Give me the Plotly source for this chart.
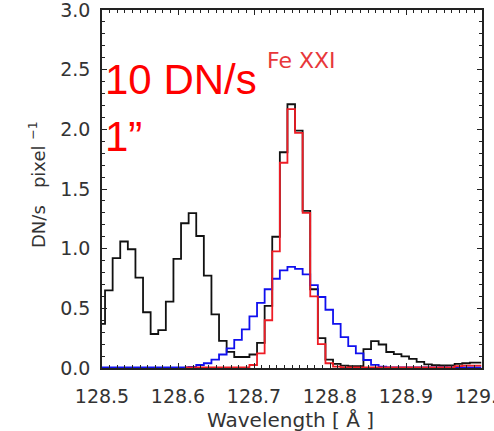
import plotly.graph_objects as go

# ---- data (bin centres in Angstrom, 0.01 A spacing) ----
wavelength = [round(128.499 + 0.01 * k, 4) for k in range(51)]

observed = [0.37, 0.65, 0.92, 1.06, 0.995, 0.757, 0.467, 0.285, 0.318, 0.556,
            0.914, 1.213, 1.297, 1.106, 0.774, 0.45, 0.228, 0.135, 0.092, 0.092,
            0.113, 0.21, 0.52, 1.10, 1.808, 2.21, 1.99, 1.316, 0.66, 0.25,
            0.07, 0.035, 0.02, 0.015, 0.015, 0.158, 0.225, 0.197, 0.134, 0.117,
            0.097, 0.076, 0.052, 0.031, 0.024, 0.021, 0.022, 0.034, 0.04, 0.045,
            0.045]

broad = [0.004, 0.004, 0.004, 0.004, 0.004, 0.004, 0.004, 0.004, 0.004, 0.004,
         0.005, 0.006, 0.01, 0.025, 0.04, 0.07, 0.113, 0.165, 0.235, 0.324,
         0.433, 0.545, 0.66, 0.748, 0.818, 0.847, 0.831, 0.784, 0.695, 0.595,
         0.488, 0.37, 0.258, 0.183, 0.123, 0.067, 0.027, 0.011, 0.005, 0.005,
         0.005, 0.005, 0.005, 0.005, 0.005, 0.005, 0.005, 0.005, 0.005, 0.005,
         0.005]

fe21_wave = wavelength[11:]
fe21 = [0.006, 0.006, 0.006, 0.006, 0.006, 0.006, 0.006, 0.006, 0.006,
        0.025, 0.123, 0.40, 0.978, 1.72, 2.17, 1.97, 1.30, 0.60, 0.20,
        0.04, 0.012, 0.006, 0.006, 0.006, 0.006, 0.006, 0.006, 0.006, 0.006,
        0.006, 0.006, 0.006, 0.006, 0.006, 0.006, 0.006, 0.015, 0.02, 0.02,
        0.02]

x_ticks = [128.5, 128.6, 128.7, 128.8, 128.9, 129.0]
y_ticks = [0.0, 0.5, 1.0, 1.5, 2.0, 2.5, 3.0]

# ---- figure ----
fig = go.Figure()
fig.add_trace(go.Scatter(x=wavelength, y=observed, mode="lines",
                         line=dict(shape="hvh", color="#111111", width=1.8),
                         showlegend=False))
fig.add_trace(go.Scatter(x=wavelength, y=broad, mode="lines",
                         line=dict(shape="hvh", color="#1010ee", width=1.8),
                         showlegend=False))
fig.add_trace(go.Scatter(x=fe21_wave, y=fe21, mode="lines",
                         line=dict(shape="hvh", color="#ee1c25", width=1.8),
                         showlegend=False))

W, H = 494, 431
L, R, T, B = 102, 12, 10, 63
pw, ph = W - L - R, H - T - B


def px(xp):
    return (xp - L) / pw


def py(yp):
    return (H - B - yp) / ph


tickfont = dict(family="DejaVu Sans", size=19, color="#333333")
fig.update_layout(
    width=W, height=H,
    margin=dict(l=L, r=R, t=T, b=B, autoexpand=False),
    paper_bgcolor="white", plot_bgcolor="white",
    xaxis=dict(range=[128.5, 129.0], tickvals=x_ticks,
               ticktext=[f"{v:.1f}" for v in x_ticks],
               ticks="inside", ticklen=5, tickwidth=1.2, tickcolor="#222",
               minor=dict(dtick=0.01, ticks="inside", ticklen=3, tickwidth=1, tickcolor="#222"),
               showline=True, linecolor="#222", linewidth=1.5, mirror="ticks",
               showgrid=False, zeroline=False, tickfont=tickfont,
               ticklabelstandoff=10, ticklabeloverflow="allow", automargin=False),
    yaxis=dict(range=[0, 3.0], tickvals=y_ticks,
               ticktext=[f"{v:.1f}" for v in y_ticks],
               ticks="inside", ticklen=5, tickwidth=1.2, tickcolor="#222",
               minor=dict(dtick=0.1, ticks="inside", ticklen=3, tickwidth=1, tickcolor="#222"),
               showline=True, linecolor="#222", linewidth=1.5, mirror="ticks",
               showgrid=False, zeroline=False, tickfont=tickfont,
               ticklabelstandoff=6, ticklabeloverflow="allow", automargin=False),
)

annotations = [
    dict(text="Wavelength [ Å ]", x=px(290), y=py(420), xref="paper", yref="paper",
         xanchor="center", yanchor="middle", showarrow=False,
         font=dict(family="DejaVu Sans", size=20, color="#333333")),
    dict(text="DN/s\u00a0\u00a0\u00a0pixel <sup>\u22121</sup>", x=px(37), y=py(185),
         xref="paper", yref="paper", textangle=-90,
         xanchor="center", yanchor="middle", showarrow=False,
         font=dict(family="DejaVu Sans", size=18, color="#333333")),
    dict(text="10 DN/s", x=px(103), y=py(80), xref="paper", yref="paper",
         xanchor="left", yanchor="middle", showarrow=False,
         font=dict(family="Liberation Sans", size=42, color="#ff0000")),
    dict(text="1\u201d", x=px(103), y=py(136), xref="paper", yref="paper",
         xanchor="left", yanchor="middle", showarrow=False,
         font=dict(family="Liberation Sans", size=42, color="#ff0000")),
    dict(text="Fe XXI", x=px(265), y=py(60), xref="paper", yref="paper",
         xanchor="left", yanchor="middle", showarrow=False,
         font=dict(family="DejaVu Sans", size=22, color="#e8373a")),
]
fig.update_layout(annotations=annotations)

fig.write_html("out.html")
